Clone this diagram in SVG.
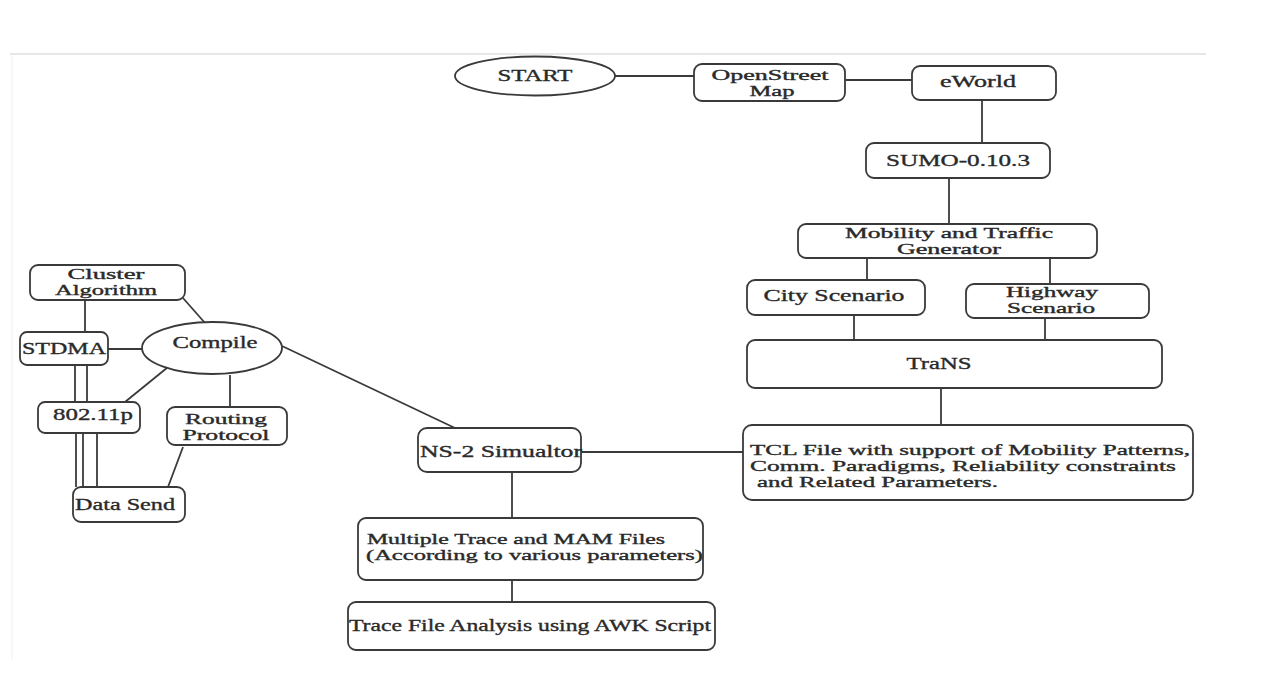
<svg xmlns="http://www.w3.org/2000/svg" width="1264" height="697" viewBox="0 0 1264 697">
<style>
.n{fill:#fff;stroke:#3a3a3a;stroke-width:1.8}
.c line,.c path{stroke:#3a3a3a;stroke-width:1.8;fill:none}
text{font-family:"Liberation Serif","Times New Roman",serif;font-size:16.5px;fill:#2a2a2a;stroke:#2a2a2a;stroke-width:0.35;text-anchor:middle}
.m{font-size:14px}
.l{text-anchor:start}
</style>
<rect width="1264" height="697" fill="#fff"/>
<line x1="10" y1="54" x2="1206" y2="54" stroke="#cfcfcf" stroke-width="1.2"/>
<line x1="12" y1="55" x2="12" y2="660" stroke="#f0f0f0" stroke-width="1"/>
<g class="c">
<line x1="615" y1="76" x2="694" y2="76"/>
<line x1="845" y1="80" x2="912" y2="80"/>
<line x1="982" y1="100" x2="982" y2="143"/>
<line x1="949" y1="178" x2="949" y2="224"/>
<line x1="867" y1="258" x2="867" y2="280"/>
<line x1="1050" y1="258" x2="1050" y2="284"/>
<line x1="854" y1="315" x2="854" y2="340"/>
<line x1="1045" y1="318" x2="1045" y2="340"/>
<line x1="941" y1="388" x2="941" y2="425"/>
<line x1="581" y1="452" x2="743" y2="452"/>
<line x1="512" y1="472" x2="512" y2="518"/>
<line x1="512" y1="580" x2="512" y2="602"/>
<line x1="282" y1="346" x2="455" y2="428"/>
<line x1="85" y1="300" x2="85" y2="332"/>
<line x1="183" y1="298" x2="205" y2="323"/>
<line x1="108" y1="349" x2="143" y2="349"/>
<line x1="75" y1="365" x2="75" y2="402"/>
<line x1="87" y1="365" x2="87" y2="402"/>
<line x1="173" y1="363" x2="125" y2="402"/>
<line x1="230" y1="375" x2="230" y2="407"/>
<line x1="76" y1="433" x2="76" y2="487"/>
<line x1="83" y1="433" x2="83" y2="487"/>
<line x1="97" y1="433" x2="97" y2="487"/>
<line x1="183" y1="447" x2="168" y2="487"/>
</g>
<g id="start"><ellipse class="n" cx="535" cy="76" rx="80" ry="19.5"/><text x="535" y="81" textLength="75" lengthAdjust="spacingAndGlyphs">START</text></g>
<g id="osm"><rect class="n" x="694" y="64" width="151" height="37" rx="8"/><text class="m" x="770" y="80" textLength="117" lengthAdjust="spacingAndGlyphs">OpenStreet</text><text class="m" x="772" y="96" textLength="45" lengthAdjust="spacingAndGlyphs">Map</text></g>
<g id="eworld"><rect class="n" x="912" y="66" width="144" height="34" rx="8"/><text x="978" y="87" textLength="76" lengthAdjust="spacingAndGlyphs">eWorld</text></g>
<g id="sumo"><rect class="n" x="866" y="143" width="184" height="35" rx="8"/><text x="958" y="166" textLength="144" lengthAdjust="spacingAndGlyphs">SUMO-0.10.3</text></g>
<g id="mobility"><rect class="n" x="798" y="224" width="299" height="34" rx="8"/><text class="m" x="949" y="238" textLength="208" lengthAdjust="spacingAndGlyphs">Mobility and Traffic</text><text class="m" x="949" y="254" textLength="104" lengthAdjust="spacingAndGlyphs">Generator</text></g>
<g id="city"><rect class="n" x="747" y="280" width="178" height="35" rx="8"/><text x="834" y="301" textLength="141" lengthAdjust="spacingAndGlyphs">City Scenario</text></g>
<g id="highway"><rect class="n" x="966" y="284" width="183" height="34" rx="8"/><text class="m" x="1052" y="297" textLength="92" lengthAdjust="spacingAndGlyphs">Highway</text><text class="m" x="1051" y="313" textLength="88" lengthAdjust="spacingAndGlyphs">Scenario</text></g>
<g id="trans"><rect class="n" x="747" y="340" width="415" height="48" rx="8"/><text x="939" y="369" textLength="65" lengthAdjust="spacingAndGlyphs">TraNS</text></g>
<g id="tcl"><rect class="n" x="743" y="425" width="450" height="75" rx="9"/><text class="l m" x="750" y="455" textLength="440" lengthAdjust="spacingAndGlyphs">TCL File with support of Mobility Patterns,</text><text class="l m" x="750" y="471" textLength="426" lengthAdjust="spacingAndGlyphs">Comm. Paradigms, Reliability constraints</text><text class="l m" x="757" y="487" textLength="241" lengthAdjust="spacingAndGlyphs">and Related Parameters.</text></g>
<g id="ns2"><rect class="n" x="418" y="428" width="163" height="44" rx="9"/><text class="l" x="420" y="457" textLength="162" lengthAdjust="spacingAndGlyphs">NS-2 Simualtor</text></g>
<g id="multi"><rect class="n" x="358" y="518" width="345" height="62" rx="8"/><text class="l m" x="367" y="544" textLength="298" lengthAdjust="spacingAndGlyphs">Multiple Trace and MAM Files</text><text class="l m" x="366" y="560" textLength="337" lengthAdjust="spacingAndGlyphs">(According to various parameters)</text></g>
<g id="awk"><rect class="n" x="348" y="602" width="367" height="48" rx="8"/><text class="l" x="349" y="631" textLength="362" lengthAdjust="spacingAndGlyphs">Trace File Analysis using AWK Script</text></g>
<g id="cluster"><rect class="n" x="30" y="265" width="155" height="35" rx="8"/><text class="m" x="106" y="279" textLength="77" lengthAdjust="spacingAndGlyphs">Cluster</text><text class="m" x="106" y="295" textLength="102" lengthAdjust="spacingAndGlyphs">Algorithm</text></g>
<g id="stdma"><rect class="n" x="20" y="332" width="88" height="33" rx="7"/><text class="l" x="22" y="354" textLength="84" lengthAdjust="spacingAndGlyphs">STDMA</text></g>
<g id="compile"><ellipse class="n" cx="212" cy="348" rx="70" ry="26"/><text x="215" y="348" textLength="85" lengthAdjust="spacingAndGlyphs">Compile</text></g>
<g id="p80211"><rect class="n" x="38" y="402" width="102" height="31" rx="7"/><text x="93" y="420" textLength="80" lengthAdjust="spacingAndGlyphs">802.11p</text></g>
<g id="routing"><rect class="n" x="167" y="407" width="120" height="38" rx="8"/><text class="m" x="226" y="424" textLength="82" lengthAdjust="spacingAndGlyphs">Routing</text><text class="m" x="226" y="440" textLength="87" lengthAdjust="spacingAndGlyphs">Protocol</text></g>
<g id="datasend"><rect class="n" x="73" y="487" width="112" height="35" rx="8"/><text class="l" x="75" y="510" textLength="100" lengthAdjust="spacingAndGlyphs">Data Send</text></g>
</svg>
